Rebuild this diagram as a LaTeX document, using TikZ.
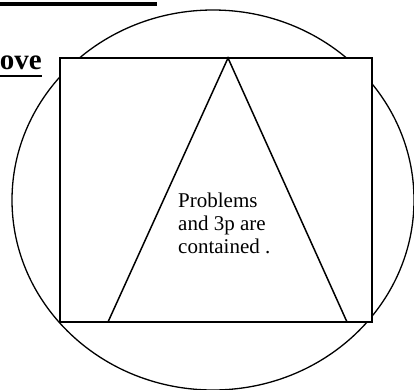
\documentclass[tikz,border=0pt]{standalone}
\usepackage{fontspec}
\setmainfont{Liberation Serif}
\usetikzlibrary{positioning}

\begin{document}
\begin{tikzpicture}[x=1pt,y=-1pt,
  rim/.style={draw=black,line width=1.3pt},
  outline/.style={draw=black,fill=white,line width=1.7pt},
  wedge/.style={draw=black,line width=1.5pt,line join=miter},
  bar/.style={draw=black,line width=2.6pt},
  note/.style={align=left,inner sep=0pt,font=\fontsize{21}{23}\selectfont},
  head/.style={inner sep=0pt,font=\fontsize{29}{32}\selectfont\bfseries}]
\useasboundingbox (0,0) rectangle (414,389);
\clip (0,0) rectangle (414,389);

% ring behind the frame
\draw[rim] (213,200) ellipse [x radius=201, y radius=190];
\draw[outline] (60,58) rectangle (372,322);

% triangle
\coordinate (apex)  at (228,58);
\coordinate (baseL) at (108,322);
\coordinate (baseR) at (347,322);
\draw[wedge] (baseL) -- (apex) -- (baseR);

\node[note,anchor=north west] (txt) at (178,193) {Problems\\and 3p are\\contained .};

% cut-off heading bits
\node[head,anchor=base east] (ove) at (42,69) {ove};
\coordinate (ul) at (0,76);
\draw[bar] (ul) -- (ul -| ove.base east);
\coordinate (tl) at (0,4.3);
\coordinate (tr) at (157,4.3);
\draw[bar,line width=3.8pt] (tl) -- (tr);
\end{tikzpicture}
\end{document}
